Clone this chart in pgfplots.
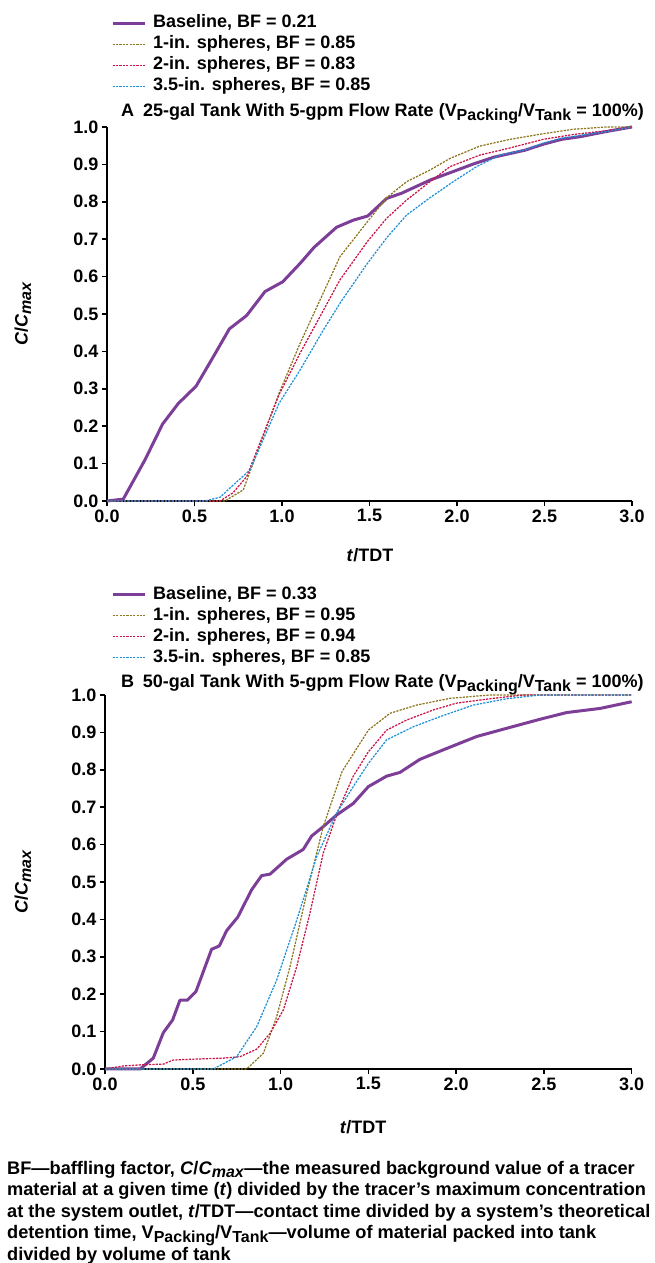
\documentclass[border=0pt]{standalone}
\usepackage{fontspec}
\setmainfont{Liberation Sans}
\usepackage{pgfplots}
\pgfplotsset{compat=1.18}

\definecolor{cbase}{RGB}{125,62,152}
\definecolor{colive}{RGB}{140,118,30}
\definecolor{cred}{RGB}{200,20,70}
\definecolor{cblue}{RGB}{30,145,215}

\newcommand{\fs}{\fontsize{18bp}{21bp}\selectfont\bfseries}
\newcommand{\sub}[1]{\raisebox{-3.5bp}{\fontsize{16bp}{16bp}\selectfont #1}}

\pgfplotsset{
  tank/.style={
    scale only axis, width=525bp, height=374bp,
    xmin=0, xmax=3, ymin=0, ymax=1,
    axis x line*=bottom, axis y line*=left,
    axis line style={line width=2bp},
    xtick={0,0.5,1,1.5,2,2.5,3},
    ytick={0,0.1,0.2,0.3,0.4,0.5,0.6,0.7,0.8,0.9,1},
    tick align=outside, major tick length=5bp,
    every tick/.style={black, line width=1.5bp},
    tick label style={font=\fs},
    /pgf/number format/assume math mode=true,
    x tick label style={/pgf/number format/.cd, fixed, fixed zerofill, precision=1, /tikz/.cd},
    y tick label style={/pgf/number format/.cd, fixed, fixed zerofill, precision=1, /tikz/.cd},
    clip=false,
    xlabel={\textit{t}/TDT},
    ylabel={\textit{C}/\textit{C}\sub{\textit{max}}},
    label style={font=\fs},
    legend cell align=left,
    legend style={draw=none, fill=none, font=\fs, anchor=north west, inner sep=0pt,
      row sep=4bp, nodes={inner sep=0pt, text height=13bp, text depth=4bp},
      /tikz/every odd column/.append style={column sep=7bp}},
    legend image code/.code={\draw[##1] (0bp,0bp) -- (32bp,0bp);},
  },
  base/.style={cbase, line width=3bp, line join=round},
  one/.style={colive, line width=1.25bp, dash pattern=on 2.2bp off 1.2bp},
  two/.style={cred, line width=1.25bp, dash pattern=on 2.2bp off 1.2bp},
  three/.style={cblue, line width=1.25bp, dash pattern=on 2.2bp off 1.2bp},
}

\begin{document}
\begin{tikzpicture}
\path[use as bounding box] (0,0) rectangle (655bp,1263bp);

% ---- panel A ----
\begin{axis}[tank, at={(107bp,762bp)}, anchor=south west,
  xlabel style={at={(axis description cs:0.501,-0.144)}, anchor=center},
  ylabel style={at={(axis description cs:-0.16,0.5)}, anchor=center},
  legend style={at={(axis description cs:0.0076,1.300)}}]
\addplot[base] coordinates {(0,0) (0.093,0.005) (0.217,0.11) (0.318,0.206) (0.408,0.261) (0.509,0.307) (0.608,0.386) (0.699,0.46) (0.798,0.496) (0.903,0.56) (1.004,0.586) (1.103,0.635) (1.183,0.678) (1.312,0.732) (1.408,0.751) (1.49,0.762) (1.598,0.809) (1.684,0.823) (1.846,0.858) (1.979,0.881) (2.093,0.901) (2.208,0.919) (2.389,0.938) (2.493,0.954) (2.598,0.967) (2.703,0.974) (2.855,0.988) (3.0,1.0)};
\addlegendentry{Baseline, BF = 0.21}
\addplot[one] coordinates {(0,0) (0.674,0) (0.779,0.03) (0.983,0.288) (1.103,0.421) (1.217,0.537) (1.331,0.653) (1.49,0.748) (1.598,0.811) (1.713,0.854) (1.846,0.885) (1.96,0.916) (2.131,0.949) (2.303,0.967) (2.493,0.982) (2.665,0.994) (2.855,1.0) (3.0,1.0)};
\addlegendentry{1-in. spheres, BF = 0.85}
\addplot[two] coordinates {(0,0) (0.646,0) (0.72,0.022) (0.798,0.065) (0.983,0.284) (1.103,0.395) (1.217,0.493) (1.331,0.591) (1.49,0.695) (1.598,0.756) (1.713,0.805) (1.846,0.854) (1.96,0.894) (2.131,0.925) (2.303,0.944) (2.493,0.967) (2.665,0.98) (2.855,0.99) (3.0,1.0)};
\addlegendentry{2-in. spheres, BF = 0.83}
\addplot[three] coordinates {(0,0) (0.56,0) (0.646,0.01) (0.722,0.043) (0.817,0.083) (0.983,0.261) (1.103,0.35) (1.236,0.457) (1.34,0.535) (1.48,0.63) (1.6,0.705) (1.713,0.765) (1.846,0.811) (1.979,0.854) (2.112,0.894) (2.246,0.925) (2.4,0.94) (2.493,0.957) (2.598,0.97) (2.855,0.988) (3.0,1.0)};
\addlegendentry{3.5-in. spheres, BF = 0.85}
\node[anchor=base west, font=\fs, inner sep=0pt] at (axis description cs:0.0267,1.028)
  {A\hspace{9bp}25-gal Tank With 5-gpm Flow Rate (V\sub{Packing}/V\sub{Tank} = 100\%)};
\end{axis}

% ---- panel B ----
\begin{axis}[tank, at={(105bp,194bp)}, anchor=south west, width=526.7bp,
  xlabel style={at={(axis description cs:0.49,-0.155)}, anchor=center},
  ylabel style={at={(axis description cs:-0.156,0.5)}, anchor=center},
  legend style={at={(axis description cs:0.0114,1.291)}}]
\addplot[base] coordinates {(0,0) (0.2,0) (0.275,0.029) (0.332,0.097) (0.385,0.131) (0.427,0.184) (0.469,0.184) (0.518,0.207) (0.607,0.32) (0.651,0.329) (0.693,0.37) (0.756,0.406) (0.835,0.479) (0.892,0.517) (0.94,0.521) (1.035,0.561) (1.129,0.587) (1.177,0.623) (1.243,0.648) (1.319,0.679) (1.414,0.71) (1.5,0.755) (1.604,0.783) (1.68,0.793) (1.794,0.828) (1.946,0.857) (2.117,0.889) (2.288,0.911) (2.477,0.935) (2.629,0.953) (2.819,0.964) (3.0,0.982)};
\addlegendentry{Baseline, BF = 0.33}
\addplot[one] coordinates {(0,0) (0.807,0) (0.902,0.042) (0.978,0.14) (1.054,0.274) (1.149,0.47) (1.243,0.648) (1.35,0.795) (1.5,0.906) (1.623,0.951) (1.775,0.973) (1.965,0.991) (2.192,1.0) (3.0,1.0)};
\addlegendentry{1-in. spheres, BF = 0.95}
\addplot[two] coordinates {(0,0) (0.104,0.008) (0.2,0.011) (0.332,0.013) (0.389,0.024) (0.484,0.026) (0.674,0.029) (0.769,0.033) (0.864,0.053) (0.94,0.095) (1.016,0.158) (1.092,0.274) (1.167,0.416) (1.243,0.577) (1.329,0.692) (1.414,0.783) (1.5,0.848) (1.604,0.906) (1.718,0.933) (1.87,0.96) (2.0,0.978) (2.192,0.99) (2.382,1.0) (3.0,1.0)};
\addlegendentry{2-in. spheres, BF = 0.94}
\addplot[three] coordinates {(0,0) (0.617,0) (0.75,0.033) (0.864,0.113) (0.978,0.238) (1.092,0.398) (1.206,0.568) (1.319,0.684) (1.414,0.755) (1.5,0.817) (1.604,0.88) (1.756,0.915) (1.908,0.942) (2.097,0.973) (2.288,0.99) (2.477,1.0) (3.0,1.0)};
\addlegendentry{3.5-in. spheres, BF = 0.85}
\node[anchor=base west, font=\fs, inner sep=0pt] at (axis description cs:0.03,1.020)
  {B\hspace{9bp}50-gal Tank With 5-gpm Flow Rate (V\sub{Packing}/V\sub{Tank} = 100\%)};
\end{axis}

% ---- caption ----
\node[anchor=north west, inner sep=0pt, align=left,
  font=\fontsize{18.2bp}{21.5bp}\selectfont\bfseries] at (7bp,102bp)
  {BF—baffling factor, \textit{C}/\textit{C}\sub{\textit{max}}—the measured background value of a tracer\\
   material at a given time (\textit{t}) divided by the tracer’s maximum concentration\\
   at the system outlet, \textit{t}/TDT—contact time divided by a system’s theoretical\\
   detention time, V\sub{Packing}/V\sub{Tank}—volume of material packed into tank\\
   divided by volume of tank};
\end{tikzpicture}
\end{document}
